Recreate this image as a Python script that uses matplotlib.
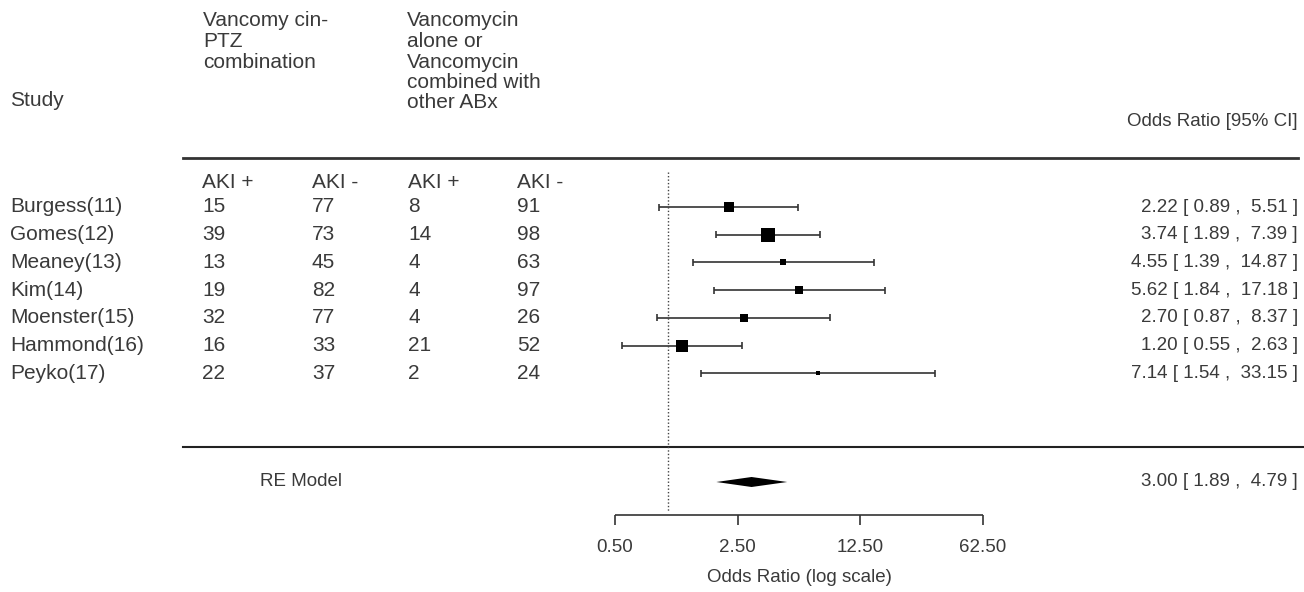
import numpy as np
import matplotlib.pyplot as plt
from matplotlib.transforms import blended_transform_factory

plt.rcParams['font.family'] = ['Liberation Sans', 'DejaVu Sans']

# study table
studies = ['Burgess(11)', 'Gomes(12)', 'Meaney(13)', 'Kim(14)',
           'Moenster(15)', 'Hammond(16)', 'Peyko(17)']
ptz_aki_pos = [15, 39, 13, 19, 32, 16, 22]
ptz_aki_neg = [77, 73, 45, 82, 77, 33, 37]
vanc_aki_pos = [8, 14, 4, 4, 4, 21, 2]
vanc_aki_neg = [91, 98, 63, 97, 26, 52, 24]

# odds ratios and 95% CI
odds_ratio = [2.22, 3.74, 4.55, 5.62, 2.70, 1.20, 7.14]
ci_lower = [0.89, 1.89, 1.39, 1.84, 0.87, 0.55, 1.54]
ci_upper = [5.51, 7.39, 14.87, 17.18, 8.37, 2.63, 33.15]

re_estimate = 3.00
re_lower = 1.89
re_upper = 4.79

axis_ticks = [0.5, 2.5, 12.5, 62.5]

header_ptz = ['Vancomy cin-', 'PTZ', 'combination']
header_vanc = ['Vancomycin', 'alone or', 'Vancomycin', 'combined with', 'other ABx']
count_cols = ['AKI +', 'AKI -', 'AKI +', 'AKI -']

W, H = 1304, 592
TXT = '#3a3a3a'

fig = plt.figure(figsize=(W / 100, H / 100), dpi=100)
ax = fig.add_axes([0, 0, 1, 1])
ax.set_xscale('log')

# log axis placed so that 0.5 sits at x=615px and 62.5 at x=983px
x0, x1 = 615, 983
px_per_dec = (x1 - x0) / np.log10(62.5 / 0.5)
def px_to_val(p):
    return 0.5 * 10 ** ((p - x0) / px_per_dec)
ax.set_xlim(px_to_val(0), px_to_val(W))
ax.set_ylim(H, 0)
ax.axis('off')

tr = blended_transform_factory(ax.transAxes, ax.transData)
def fx(p):
    return p / W

left_fs = 15
right_fs = 13.5

# headers
ax.text(fx(10), 101, 'Study', fontsize=left_fs, color=TXT, va='center', transform=tr)
for i, line in enumerate(header_ptz):
    ax.text(fx(203), 21 + i * 20.5, line, fontsize=left_fs, color=TXT, va='center', transform=tr)
for i, line in enumerate(header_vanc):
    ax.text(fx(407), 21 + i * 20.5, line, fontsize=left_fs, color=TXT, va='center', transform=tr)
ax.text(fx(1298), 122, 'Odds Ratio [95% CI]', fontsize=right_fs, color=TXT,
        ha='right', va='center', transform=tr)

ax.plot([fx(183), fx(1298)], [158, 158], color='#333333', lw=2, transform=tr)
ax.plot([fx(183), fx(W)], [447, 447], color='#222222', lw=1.5, transform=tr)

col_x = [202, 312, 408, 517]
for cx, lab in zip(col_x, count_cols):
    ax.text(fx(cx), 182, lab, fontsize=left_fs, color=TXT, va='center', transform=tr)

n = len(studies)
rows = 207 + np.arange(n) * 27.7

# random-effects weights (DerSimonian-Laird) -> square size
yi = np.log(odds_ratio)
vi = ((np.log(ci_upper) - np.log(ci_lower)) / (2 * 1.96)) ** 2
wi = 1 / vi
mu = np.sum(wi * yi) / wi.sum()
Q = np.sum(wi * (yi - mu) ** 2)
tau2 = max(0, (Q - (n - 1)) / (wi.sum() - np.sum(wi ** 2) / wi.sum()))
w_re = 1 / (vi + tau2)
psize = 4.5 + (w_re - w_re.min()) / (w_re.max() - w_re.min()) * 9.5

for i in range(n):
    y = rows[i]
    ax.text(fx(10), y, studies[i], fontsize=left_fs, color=TXT, va='center', transform=tr)
    vals = [ptz_aki_pos[i], ptz_aki_neg[i], vanc_aki_pos[i], vanc_aki_neg[i]]
    for cx, v in zip(col_x, vals):
        ax.text(fx(cx), y, str(v), fontsize=left_fs, color=TXT, va='center', transform=tr)
    ax.hlines(y, ci_lower[i], ci_upper[i], color='#333333', lw=1.2)
    ax.vlines([ci_lower[i], ci_upper[i]], y - 3.5, y + 3.5, color='#333333', lw=1.2)
    ax.plot(odds_ratio[i], y, 's', ms=psize[i] * 0.72, color='black', mec='black', mew=0)
    ax.text(fx(1298), y, f'{odds_ratio[i]:.2f} [ {ci_lower[i]:.2f} ,  {ci_upper[i]:.2f} ]',
            fontsize=right_fs, color=TXT, ha='right', va='center', transform=tr)

# summary
yre = 482
ax.text(fx(260), yre, 'RE Model', fontsize=right_fs, color=TXT, va='center', transform=tr)
ax.fill([re_lower, re_estimate, re_upper, re_estimate], [yre, yre - 5, yre, yre + 5],
        color='black', lw=0)
ax.text(fx(1298), yre, f'{re_estimate:.2f} [ {re_lower:.2f} ,  {re_upper:.2f} ]',
        fontsize=right_fs, color=TXT, ha='right', va='center', transform=tr)

# reference line at OR = 1
ax.vlines(1, 172, 512, color='#444444', lw=1, linestyles=(0, (1, 1.5)))

# x axis
ax.hlines(515, axis_ticks[0], axis_ticks[-1], color='#333333', lw=1.2)
ax.vlines(axis_ticks, 515, 525, color='#333333', lw=1.2)
for t in axis_ticks:
    ax.text(t, 548, f'{t:.2f}', fontsize=right_fs, color=TXT, ha='center', va='center')
ax.text(np.sqrt(axis_ticks[0] * axis_ticks[-1]), 578, 'Odds Ratio (log scale)',
        fontsize=right_fs, color=TXT, ha='center', va='center')

fig.savefig('out.png', dpi=100, facecolor='white')
